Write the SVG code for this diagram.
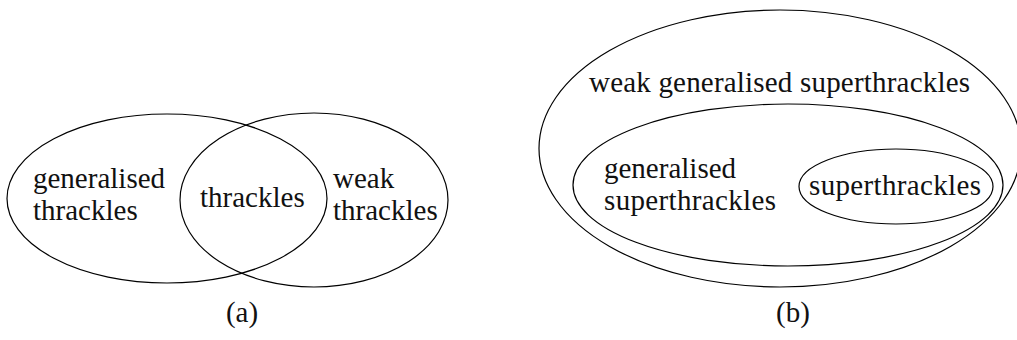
<svg xmlns="http://www.w3.org/2000/svg" width="1017" height="340" viewBox="0 0 1017 340">
<defs>
<style>
.set{fill:none;stroke:#000;stroke-width:1.2}
</style>
</defs>
<rect width="1017" height="340" fill="#fff"/>
<g font-family="Liberation Serif, serif" font-size="29" fill="#111">
<g id="diagram-a">
  <g id="generalised-thrackles">
    <ellipse class="set" cx="167" cy="198.5" rx="160" ry="84.5"/>
    <text x="33" y="188">generalised</text>
    <text x="33" y="220">thrackles</text>
  </g>
  <g id="weak-thrackles">
    <ellipse class="set" cx="314" cy="200" rx="134" ry="87"/>
    <text x="333" y="188">weak</text>
    <text x="333" y="220">thrackles</text>
  </g>
  <g id="thrackles">
    <text x="200" y="207">thrackles</text>
  </g>
  <text x="242" y="322" text-anchor="middle">(a)</text>
</g>
<g id="diagram-b">
  <g id="weak-generalised-superthrackles">
    <ellipse class="set" cx="780" cy="148.5" rx="241" ry="138.5"/>
    <text x="589" y="92" textLength="381" lengthAdjust="spacing">weak generalised superthrackles</text>
  </g>
  <g id="generalised-superthrackles">
    <ellipse class="set" cx="788" cy="185" rx="215" ry="81"/>
    <text x="604" y="178">generalised</text>
    <text x="604" y="210" textLength="172" lengthAdjust="spacing">superthrackles</text>
  </g>
  <g id="superthrackles">
    <ellipse class="set" cx="896" cy="186.5" rx="97" ry="37.5"/>
    <text x="809" y="195" textLength="172" lengthAdjust="spacing">superthrackles</text>
  </g>
  <text x="793" y="322" text-anchor="middle">(b)</text>
</g>
</g>
<g id="connectors"/>
</svg>
